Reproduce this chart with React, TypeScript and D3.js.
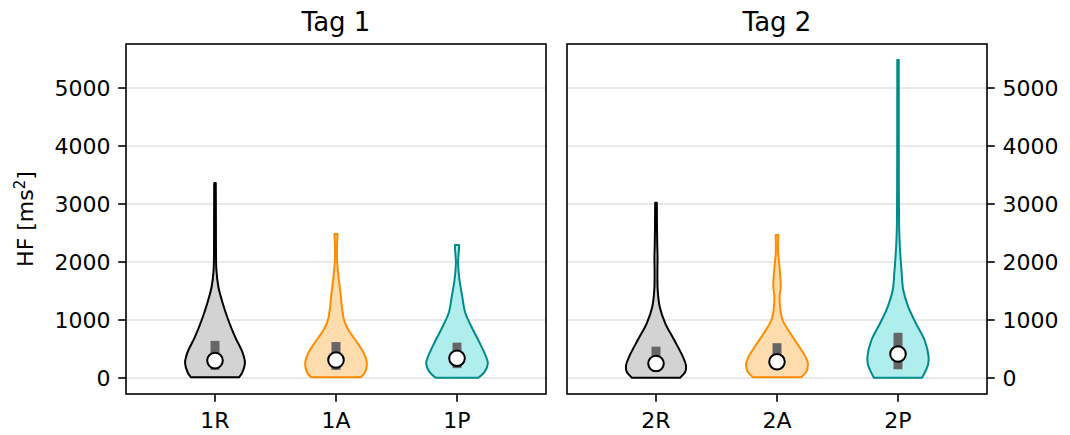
import React from 'react';
import * as d3 from 'd3';

// ---- data ----
const categoriesTag1 = ['1R', '1A', '1P'];
const categoriesTag2 = ['2R', '2A', '2P'];
const yTicks = [0, 1000, 2000, 3000, 4000, 5000];

// violin density profiles: [value, relative density (max = 1)]
const profile1R: [number, number][] = [
  [12, 0.78], [90, 0.88], [260, 0.97], [430, 0.9], [710, 0.65], [1000, 0.43], [1290, 0.25],
  [1570, 0.11], [1860, 0.045], [2200, 0.032], [2600, 0.03], [3000, 0.028], [3362, 0.025],
];
const profile1A: [number, number][] = [
  [12, 0.8], [85, 0.93], [258, 1.0], [430, 0.9], [600, 0.7], [830, 0.4], [1000, 0.26],
  [1230, 0.19], [1400, 0.16], [1575, 0.12], [1750, 0.08], [1950, 0.045], [2100, 0.032],
  [2300, 0.035], [2483, 0.05],
];
const profile1P: [number, number][] = [
  [5, 0.69], [110, 0.9], [253, 1.0], [368, 0.94], [600, 0.74], [828, 0.52], [1120, 0.27],
  [1402, 0.17], [1690, 0.08], [1977, 0.035], [2050, 0.04], [2200, 0.06], [2293, 0.07],
];
const profile2R: [number, number][] = [
  [5, 0.78], [110, 0.95], [220, 0.97], [368, 0.87], [655, 0.59], [943, 0.3], [1230, 0.12],
  [1517, 0.055], [1800, 0.045], [2092, 0.05], [2300, 0.04], [2600, 0.032], [3023, 0.028],
];
const profile2A: [number, number][] = [
  [12, 0.78], [110, 0.95], [253, 1.0], [368, 0.92], [540, 0.72], [770, 0.43], [1000, 0.18],
  [1172, 0.11], [1402, 0.085], [1575, 0.12], [1862, 0.09], [2150, 0.04], [2300, 0.035],
  [2465, 0.045],
];
const profile2P: [number, number][] = [
  [5, 0.78], [224, 0.97], [368, 0.99], [655, 0.86], [943, 0.58], [1230, 0.33], [1517, 0.17],
  [1805, 0.12], [2092, 0.08], [2380, 0.05], [2670, 0.035], [3500, 0.027], [4500, 0.025],
  [5483, 0.024],
];

const q1Tag1 = [140, 140, 170];
const medianTag1 = [300, 310, 340];
const q3Tag1 = [640, 620, 610];
const q1Tag2 = [150, 170, 150];
const medianTag2 = [250, 280, 414];
const q3Tag2 = [540, 600, 780];

const fillColors = ['#d3d3d3', '#ffdcae', '#b0eeee'];
const edgeColors = ['#000000', '#ff8c00', '#008b8b'];

const FONT = 'DejaVu Sans, sans-serif';

const yScale = d3.scaleLinear().domain([-276, 5759]).range([394, 44]);

function violinPath(profile: [number, number][], cx: number, half: number) {
  const pts = [...profile].sort((a, b) => a[0] - b[0]);
  const right = d3
    .line<[number, number]>()
    .x((p) => cx + p[1] * half)
    .y((p) => yScale(p[0]))
    .curve(d3.curveCatmullRom.alpha(0.5));
  const left = d3
    .line<[number, number]>()
    .x((p) => cx - p[1] * half)
    .y((p) => yScale(p[0]))
    .curve(d3.curveCatmullRom.alpha(0.5));
  const r = right(pts) || '';
  const l = left([...pts].reverse()) || '';
  return r + l.replace(/^M/, 'L') + 'Z';
}

interface PanelProps {
  x0: number;
  x1: number;
  title: string;
  cats: string[];
  profiles: [number, number][][];
  q1: number[];
  med: number[];
  q3: number[];
  side: 'left' | 'right';
}

function Panel({ x0, x1, title, cats, profiles, q1, med, q3, side }: PanelProps) {
  const x = d3.scaleLinear().domain([-0.7355, 2.7355]).range([x0, x1]);
  const step = x(1) - x(0);
  const half = 0.255 * step;
  const [top, bottom] = [yScale.range()[1], yScale.range()[0]];
  const tickLen = 7.8;
  return (
    <g>
      {yTicks.map((t) => (
        <line key={'g' + t} x1={x0} x2={x1} y1={yScale(t)} y2={yScale(t)} stroke="#e2e2e2" strokeWidth={1.3} />
      ))}
      {cats.map((c, i) => (
        <path
          key={'v' + c}
          d={violinPath(profiles[i], x(i), half)}
          fill={fillColors[i]}
          stroke={edgeColors[i]}
          strokeWidth={2}
          strokeLinejoin="round"
        />
      ))}
      {cats.map((c, i) => (
        <line
          key={'b' + c}
          x1={x(i)}
          x2={x(i)}
          y1={yScale(q1[i])}
          y2={yScale(q3[i])}
          stroke="#666666"
          strokeWidth={9}
        />
      ))}
      {cats.map((c, i) => (
        <circle key={'m' + c} cx={x(i)} cy={yScale(med[i])} r={7.8} fill="#ffffff" stroke="#000000" strokeWidth={2} />
      ))}
      <rect x={x0} y={top} width={x1 - x0} height={bottom - top} fill="none" stroke="#000" strokeWidth={1.6} />
      {cats.map((c, i) => (
        <g key={'xt' + c}>
          <line x1={x(i)} x2={x(i)} y1={bottom} y2={bottom + tickLen} stroke="#000" strokeWidth={1.6} />
          <text x={x(i)} y={428} textAnchor="middle" fontFamily={FONT} fontSize={22} fill="#000">
            {c}
          </text>
        </g>
      ))}
      {yTicks.map((t) => {
        const yy = yScale(t);
        const ax = side === 'left' ? x0 : x1;
        const dir = side === 'left' ? -1 : 1;
        return (
          <g key={'yt' + t}>
            <line x1={ax} x2={ax + dir * tickLen} y1={yy} y2={yy} stroke="#000" strokeWidth={1.6} />
            <text
              x={ax + dir * (tickLen + 7.8)}
              y={yy}
              dy="0.36em"
              textAnchor={side === 'left' ? 'end' : 'start'}
              fontFamily={FONT}
              fontSize={22}
              fill="#000"
            >
              {t}
            </text>
          </g>
        );
      })}
      <text x={(x0 + x1) / 2} y={31} textAnchor="middle" fontFamily={FONT} fontSize={26} fill="#000">
        {title}
      </text>
    </g>
  );
}

export default function App() {
  return (
    <svg
      width={1070}
      height={435}
      viewBox="0 0 1070 435"
      style={{ position: 'absolute', left: 0, top: 0, background: '#fff' }}
    >
      <rect x={0} y={0} width={1070} height={435} fill="#fff" />
      <Panel
        x0={126}
        x1={546}
        title="Tag 1"
        cats={categoriesTag1}
        profiles={[profile1R, profile1A, profile1P]}
        q1={q1Tag1}
        med={medianTag1}
        q3={q3Tag1}
        side="left"
      />
      <Panel
        x0={567}
        x1={987}
        title="Tag 2"
        cats={categoriesTag2}
        profiles={[profile2R, profile2A, profile2P]}
        q1={q1Tag2}
        med={medianTag2}
        q3={q3Tag2}
        side="right"
      />
      <text
        transform="translate(33,219) rotate(-90)"
        textAnchor="middle"
        fontFamily={FONT}
        fontSize={22}
        fill="#000"
      >
        HF [ms
        <tspan dy={-8} fontSize={15}>2</tspan>
        <tspan dy={8}>]</tspan>
      </text>
    </svg>
  );
}
